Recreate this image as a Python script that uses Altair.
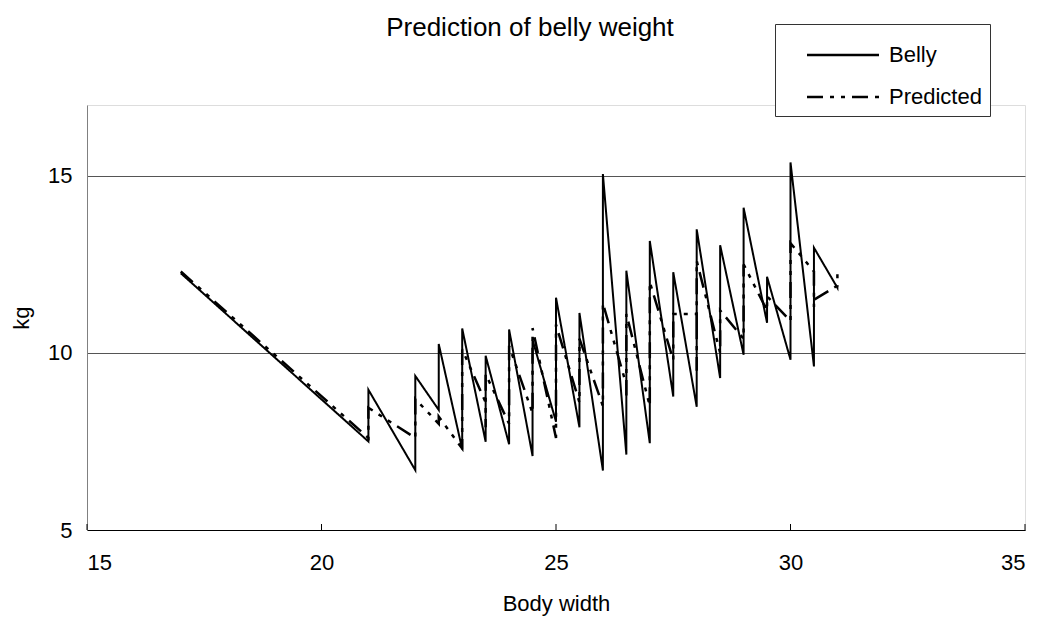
import altair as alt
import pandas as pd

FONT = "Liberation Sans, Arial, sans-serif"

# observations, sorted by body width (and by belly weight within a width)
body_width = [17,
              21, 21, 21,
              22, 22, 22,
              22.5, 22.5, 22.5,
              23, 23, 23,
              23.5, 23.5, 23.5,
              24, 24, 24,
              24.5, 24.5, 24.5,
              25, 25, 25,
              25.5, 25.5, 25.5,
              26, 26, 26,
              26.5, 26.5, 26.5,
              27, 27, 27,
              27.5, 27.5, 27.5,
              28, 28, 28,
              28.5, 28.5, 28.5,
              29, 29, 29,
              29.5, 29.5, 29.5,
              30, 30, 30,
              30.5, 30.5, 30.5,
              31, 31]

belly = [12.25,
         7.50, 8.20, 8.96,
         6.69, 8.00, 9.35,
         8.39, 9.30, 10.25,
         7.28, 9.00, 10.69,
         7.49, 8.70, 9.92,
         7.42, 9.00, 10.66,
         7.09, 8.70, 10.37,
         8.06, 9.80, 11.56,
         7.90, 9.50, 11.13,
         6.68, 9.50, 15.05,
         7.13, 9.50, 12.32,
         7.45, 10.00, 13.16,
         8.77, 10.50, 12.28,
         8.48, 11.00, 13.49,
         9.29, 11.00, 13.04,
         9.95, 12.00, 14.10,
         10.85, 11.50, 12.15,
         9.81, 12.00, 15.38,
         9.62, 11.50, 12.97,
         11.84, 11.90]

predicted = [12.30,
             7.60, 8.00, 8.45,
             7.60, 8.20, 8.70,
             8.00, 8.10, 8.20,
             7.30, 8.80, 10.10,
             8.60, 7.90, 9.40,
             8.00, 9.00, 10.20,
             8.30, 8.60, 10.70,
             7.60, 9.00, 10.80,
             8.60, 9.90, 10.40,
             8.50, 10.50, 11.40,
             9.10, 8.80, 11.10,
             8.50, 10.00, 12.00,
             9.80, 10.50, 11.10,
             11.10, 9.50, 12.60,
             10.00, 10.60, 11.20,
             10.40, 11.50, 12.50,
             11.20, 11.30, 11.60,
             10.90, 12.00, 13.10,
             12.30, 11.30, 11.50,
             11.90, 12.40]

series_names = ["Belly", "Predicted"]
x_ticks = [15, 20, 25, 30, 35]
y_ticks = [5, 10, 15]

records = []
for name, vals in zip(series_names, [belly, predicted]):
    for i, (w, v) in enumerate(zip(body_width, vals)):
        records.append({"idx": i, "Body width": w, "kg": v, "series": name})
df = pd.DataFrame(records)

xscale = alt.Scale(domain=[15, 35], nice=False, zero=False)
yscale = alt.Scale(domain=[5, 17], nice=False, zero=False)

xaxis = alt.Axis(values=x_ticks, grid=False, ticks=False, labelPadding=22,
                 labelFont=FONT, labelFontSize=22, labelColor="black",
                 domainColor="black", domainWidth=1,
                 titleFont=FONT, titleFontSize=22, titleFontWeight="normal",
                 titleColor="black", titlePadding=20)
yaxis = alt.Axis(values=y_ticks, grid=True, gridColor="#555555", gridWidth=1,
                 ticks=False, labelPadding=15,
                 labelFont=FONT, labelFontSize=22, labelColor="black",
                 domainColor="#808080", domainWidth=1,
                 titleFont=FONT, titleFontSize=22, titleFontWeight="normal",
                 titleColor="black", titlePadding=14)

dash_scale = alt.Scale(domain=series_names, range=[[1, 0], [16, 7, 4, 7, 4, 7]])
legend = alt.Legend(title=" ", titleFontSize=8, titlePadding=4,
                    orient="none", legendX=688, legendY=-81,
                    direction="vertical", fillColor="white", strokeColor="#333333",
                    padding=8, rowPadding=20,
                    symbolType="M-7.2,0H7.2", symbolSize=100,
                    symbolStrokeWidth=2.5, symbolStrokeColor="black",
                    symbolOffset=49, labelOffset=35,
                    labelFont=FONT, labelFontSize=22, labelColor="black",
                    labelExpr="datum.label + '\u00a0'")

base = alt.Chart(df)

belly_line = base.transform_filter(alt.datum.series == "Belly").mark_line(
    color="black", strokeWidth=2, clip=True).encode(
    x=alt.X("Body width:Q", scale=xscale, axis=xaxis, title="Body width"),
    y=alt.Y("kg:Q", scale=yscale, axis=yaxis, title="kg"),
    order=alt.Order("idx:Q"),
    strokeDash=alt.StrokeDash("series:N", scale=dash_scale, legend=legend),
)

pred_line = base.transform_filter(alt.datum.series == "Predicted").mark_line(
    color="black", strokeWidth=2.5, clip=True).encode(
    x=alt.X("Body width:Q", scale=xscale, axis=xaxis, title="Body width"),
    y=alt.Y("kg:Q", scale=yscale, axis=yaxis, title="kg"),
    order=alt.Order("idx:Q"),
    strokeDash=alt.StrokeDash("series:N", scale=dash_scale, legend=legend),
)

ticks = alt.Chart(pd.DataFrame({"tick": x_ticks})).mark_rule(
    color="black", strokeWidth=1).encode(
    x=alt.X("tick:Q", scale=xscale, axis=xaxis, title="Body width"),
    y=alt.value(425), y2=alt.value(419),
)

chart = alt.layer(belly_line, pred_line, ticks).properties(
    width=938, height=425,
    title=alt.TitleParams("Prediction of belly weight", font=FONT, fontSize=26,
                          fontWeight="normal", color="black", anchor="middle",
                          dx=-26, dy=27, offset=10),
    padding={"left": 79, "top": 97, "right": 6, "bottom": 92},
    autosize=alt.AutoSizeParams(type="none"),
).configure_view(stroke=None).configure(background="white")

chart.save("out.html", embed_options={"renderer": "svg", "actions": False})
